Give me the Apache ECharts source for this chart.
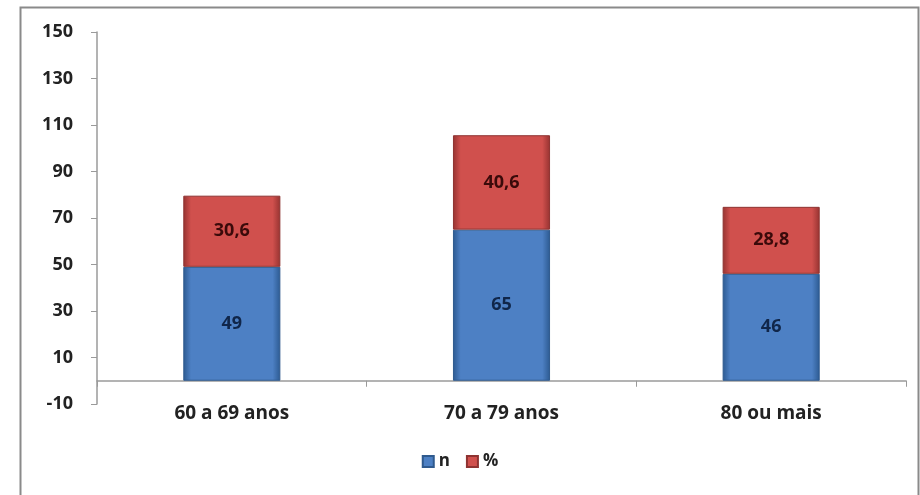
<!DOCTYPE html>
<html>
<head>
<meta charset="utf-8">
<script src="https://cdn.jsdelivr.net/npm/echarts@6/dist/echarts.min.js"></script>
<style>html,body{margin:0;padding:0;background:#fff}#c{width:920px;height:495px}</style>
</head>
<body>
<div id="c"></div>
<script>
const categories = ['60 a 69 anos', '70 a 79 anos', '80 ou mais'];
const seriesN = [49, 65, 46];
const seriesPct = [30.6, 40.6, 28.8];
const yTicks = { min: -10, max: 150, interval: 20 };

function grad(edge, mid) {
  return new echarts.graphic.LinearGradient(0, 0, 1, 0, [
    { offset: 0, color: edge }, { offset: 0.08, color: mid },
    { offset: 0.92, color: mid }, { offset: 1, color: edge }
  ]);
}
const chart = echarts.init(document.getElementById('c'), null, { renderer: 'canvas' });
const font = '"Open Sans", "Liberation Sans", Arial, sans-serif';
chart.setOption({
  animation: false,
  backgroundColor: '#fff',
  graphic: [{
    type: 'rect', left: 18, top: 5, shape: { width: 898, height: 500 },
    style: { fill: 'none', stroke: '#8a8a8a', lineWidth: 2 }, silent: true, z: -1
  }],
  grid: { left: 97, right: 14, top: 32, bottom: 91 },
  legend: {
    bottom: 20, left: 'center', itemWidth: 11, itemHeight: 11, itemGap: 16,
    icon: 'rect',
    textStyle: { fontFamily: font, fontWeight: 'bold', fontSize: 17, color: '#222' },
    data: ['n', '%']
  },
  xAxis: {
    type: 'category', data: categories,
    axisLine: { onZero: true, lineStyle: { color: '#9a9a9a', width: 1.5 } },
    axisTick: { show: true, alignWithLabel: false, length: 6, lineStyle: { color: '#9a9a9a' } },
    axisLabel: { fontFamily: font, fontWeight: 'bold', fontSize: 19, color: '#222', margin: 0 }
  },
  yAxis: {
    type: 'value', min: yTicks.min, max: yTicks.max, interval: yTicks.interval,
    splitLine: { show: false },
    axisLine: { show: true, lineStyle: { color: '#9a9a9a', width: 1.5 } },
    axisTick: { show: true, length: 6, lineStyle: { color: '#9a9a9a' } },
    axisLabel: { fontFamily: font, fontWeight: 'bold', fontSize: 18, color: '#222', margin: 24 }
  },
  series: [
    {
      name: 'n', type: 'bar', stack: 't', data: seriesN, barWidth: '36%',
      itemStyle: { color: grad('#2c5a91', '#4d80c4'), borderColor: '#2f5a8e', borderWidth: 1 },
      label: { show: true, position: 'inside', fontFamily: font, fontWeight: 'bold', fontSize: 18, color: '#10264a' }
    },
    {
      name: '%', type: 'bar', stack: 't', data: seriesPct, barWidth: '36%',
      itemStyle: { color: grad('#963331', '#d0504d'), borderColor: '#8e3331', borderWidth: 1 },
      label: { show: true, position: 'inside', fontFamily: font, fontWeight: 'bold', fontSize: 18, color: '#3a0a0a',
        formatter: p => String(p.value).replace('.', ',') }
    }
  ]
});
</script>
</body>
</html>
